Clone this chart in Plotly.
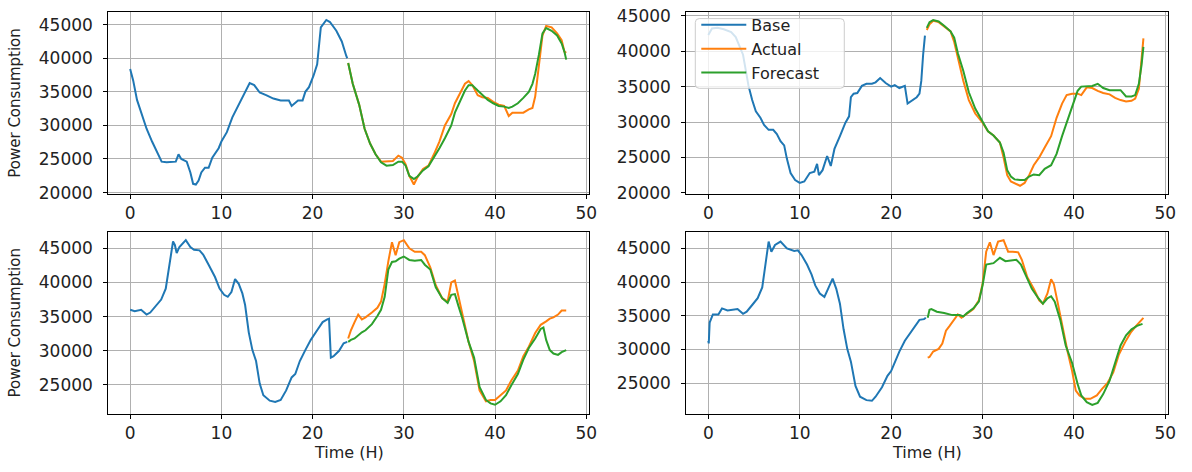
import plotly.graph_objects as go

# ---------------- data ----------------
# Top-left panel
tl_base_t = [0, 0.33, 0.75, 1.25, 1.8, 2.4, 3.0, 3.45, 4.0, 4.6, 5.0, 5.3, 5.6, 6.2, 6.6, 6.9, 7.2, 7.5, 7.8, 8.2, 8.6, 9.0, 9.7, 10.0, 10.6, 11.2, 12.0, 12.6, 13.1, 13.6, 14.2, 14.9, 15.7, 16.5, 17.4, 17.7, 18.0, 18.4, 18.9, 19.2, 19.6, 20.1, 20.5, 20.9, 21.5, 21.9, 22.6, 23.2, 23.7, 23.8]
tl_base_v = [38400, 36700, 33800, 31900, 29500, 27600, 25900, 24600, 24500, 24500, 24600, 25700, 25000, 24600, 23000, 21300, 21200, 21800, 23000, 23700, 23700, 25200, 26600, 27600, 29000, 31200, 33300, 35000, 36300, 36000, 34900, 34500, 34000, 33700, 33700, 32900, 33200, 33700, 33700, 35000, 35700, 37400, 39100, 44600, 45700, 45400, 44100, 42500, 40300, 40000]
tl_fc_t = [23.9, 24.4, 25.1, 25.7, 26.3, 26.9, 27.5, 28.1, 28.8, 29.4, 29.8, 30.2, 30.6, 31.1, 31.5, 32.1, 32.7, 33.3, 33.9, 34.5, 35.2, 35.6, 36.2, 36.7, 37.1, 37.5, 38.1, 38.6, 39.2, 39.8, 40.4, 41.0, 41.5, 41.9, 42.5, 43.1, 43.7, 44.1, 44.4, 44.8, 45.2, 45.6, 46.2, 46.8, 47.3, 47.6, 47.8]
tl_actual_v = [39300, 36200, 33100, 29500, 27300, 25700, 24600, 24600, 24700, 25500, 25200, 24200, 22500, 21200, 22300, 23500, 24000, 25700, 27600, 30000, 31700, 33300, 34800, 36200, 36600, 36000, 34500, 34200, 34100, 33500, 33100, 32900, 31400, 31900, 31900, 31900, 32400, 32600, 34300, 39100, 43400, 44800, 44600, 43700, 42700, 41000, 40800]
tl_forecast_v = [39300, 36200, 33100, 29500, 27300, 25700, 24500, 24000, 24100, 24600, 24600, 24000, 22500, 22000, 22400, 23300, 23900, 25200, 26600, 28100, 30000, 31900, 33800, 35200, 36000, 36000, 35200, 34500, 33800, 33300, 32900, 32800, 32600, 32800, 33300, 34100, 35000, 36200, 37700, 40500, 43700, 44500, 44100, 43400, 42200, 41000, 39800]

# Top-right panel
tr_base_t = [0, 0.4, 1.0, 1.7, 2.5, 3.0, 3.8, 4.4, 4.8, 5.2, 5.7, 6.1, 6.6, 7.1, 7.5, 7.9, 8.3, 8.6, 9.0, 9.5, 10.0, 10.5, 11.1, 11.6, 11.9, 12.1, 12.5, 13.0, 13.4, 13.8, 14.4, 15.0, 15.4, 15.6, 15.9, 16.3, 16.8, 17.3, 17.9, 18.3, 18.8, 19.4, 20.0, 20.4, 20.9, 21.5, 21.8, 22.3, 22.8, 23.1, 23.3, 23.5, 23.7]
tr_base_v = [42300, 43200, 43300, 43100, 42700, 42000, 39500, 35100, 33100, 31500, 30600, 29600, 28900, 28900, 28300, 27300, 26700, 24800, 22800, 21800, 21400, 21600, 22800, 23000, 24100, 22500, 23200, 25200, 23800, 26200, 28000, 29900, 30800, 33500, 34000, 34100, 35100, 35400, 35400, 35600, 36200, 35500, 35000, 35200, 34800, 35100, 32600, 33100, 33500, 34000, 35800, 39500, 42200]
tr_fc_t = [23.9, 24.2, 24.6, 25.2, 25.8, 26.5, 26.9, 27.3, 27.9, 28.5, 29.2, 30.0, 30.6, 31.2, 31.9, 32.3, 32.7, 33.1, 33.5, 34.1, 34.6, 35.1, 35.6, 36.2, 36.8, 37.5, 38.1, 38.7, 39.2, 39.8, 40.4, 40.8, 41.4, 42.0, 42.6, 43.2, 43.9, 44.5, 45.1, 45.7, 46.3, 46.7, 47.1, 47.4, 47.6]
tr_actual_v = [43000, 43800, 44300, 44100, 43500, 42800, 41300, 39000, 35800, 33100, 31200, 29900, 28700, 28100, 27100, 25000, 22500, 21600, 21400, 21000, 21400, 22500, 23900, 25000, 26400, 28000, 30600, 32600, 33800, 34000, 34000, 33800, 34900, 34800, 34400, 34100, 33900, 33400, 33100, 32900, 33000, 33300, 34700, 38600, 41800]
tr_forecast_v = [43300, 44100, 44400, 44200, 43600, 42800, 41900, 39700, 37200, 34200, 31900, 30000, 28700, 28100, 27100, 25700, 23200, 22300, 21900, 21800, 21800, 22300, 22600, 22500, 23400, 23900, 25500, 28000, 29900, 32400, 34400, 35000, 35100, 35100, 35400, 34800, 34500, 34500, 34500, 33600, 33600, 33800, 35400, 38100, 40600]

# Bottom-left panel
bl_base_t = [0, 0.5, 1.2, 1.5, 1.8, 2.2, 2.8, 3.4, 3.9, 4.3, 4.7, 4.9, 5.1, 5.4, 5.7, 6.1, 6.6, 7.0, 7.6, 8.0, 8.6, 9.3, 9.8, 10.3, 10.7, 11.1, 11.5, 11.9, 12.3, 12.6, 13.0, 13.4, 13.8, 14.2, 14.6, 15.3, 15.9, 16.5, 17.1, 17.7, 18.1, 18.6, 19.2, 19.8, 20.5, 21.1, 21.6, 21.8, 22.0, 22.3, 22.9, 23.4, 23.8]
bl_base_v = [36000, 35800, 36000, 35700, 35300, 35600, 36500, 37500, 39100, 42600, 46000, 45500, 44300, 45200, 45700, 46200, 45200, 44800, 44700, 44100, 42600, 40800, 39100, 38200, 37900, 38600, 40500, 39800, 38400, 36700, 32700, 30100, 28500, 25200, 23500, 22700, 22500, 22800, 24200, 26100, 26600, 28500, 30100, 31600, 33000, 34200, 34600, 34700, 29000, 29200, 30000, 31100, 31300]
bl_actual_t = [23.9, 24.2, 24.6, 25.0, 25.4, 25.8, 26.5, 27.1, 27.5, 27.9, 28.3, 28.7, 29.1, 29.5, 30.0, 30.6, 31.2, 31.9, 32.3, 32.9, 33.5, 34.2, 34.8, 35.2, 35.6, 36.0, 36.4, 37.1, 37.7, 38.3, 39.0, 39.5, 40.0, 40.6, 41.2, 41.8, 42.5, 43.1, 43.7, 44.4, 45.0, 45.6, 46.0, 46.4, 46.9, 47.3, 47.8]
bl_actual_v = [31800, 33000, 34200, 35300, 34600, 34900, 35600, 36300, 37200, 39800, 43100, 45900, 44000, 45900, 46200, 45000, 44500, 44500, 44000, 42200, 39600, 37700, 37200, 40000, 40300, 37900, 35100, 31300, 28500, 24200, 22600, 22800, 22800, 23500, 24200, 25700, 27100, 29200, 30600, 32600, 33800, 34300, 34700, 34900, 35300, 35900, 35900]
bl_forecast_t = [23.9, 24.2, 24.6, 25.0, 25.4, 25.8, 26.5, 27.1, 27.5, 27.9, 28.3, 28.7, 29.1, 29.5, 30.0, 30.6, 31.2, 31.9, 32.3, 32.9, 33.5, 34.2, 34.8, 35.2, 35.6, 36.0, 36.4, 37.1, 37.7, 38.3, 39.0, 39.5, 40.0, 40.6, 41.2, 41.8, 42.5, 43.1, 43.7, 44.4, 45.0, 45.3, 45.6, 46.0, 46.4, 46.9, 47.3, 47.8]
bl_forecast_v = [31300, 31600, 31800, 32300, 32700, 33000, 33900, 35100, 36000, 37900, 41900, 43000, 43100, 43500, 43800, 43300, 43200, 43300, 42600, 41900, 39300, 37700, 37000, 38200, 38300, 36500, 34800, 31300, 29000, 24700, 22800, 22300, 22100, 22600, 23500, 25000, 26600, 28700, 30400, 31800, 33200, 33400, 31600, 30100, 29600, 29400, 29800, 30100]

# Bottom-right panel
br_base_t = [0, 0.05, 0.15, 0.5, 1.1, 1.5, 2.1, 2.7, 3.2, 3.8, 4.2, 4.8, 5.4, 5.9, 6.2, 6.6, 6.9, 7.3, 7.9, 8.6, 9.4, 9.8, 10.2, 10.8, 11.3, 11.7, 12.2, 12.7, 13.1, 13.6, 14.0, 14.4, 14.8, 15.2, 15.6, 16.1, 16.6, 17.3, 17.9, 18.3, 19.0, 19.6, 20.0, 20.4, 20.9, 21.5, 22.1, 22.7, 23.1, 23.6, 23.8]
br_base_v = [31300, 30900, 34000, 35200, 35200, 36100, 35800, 35900, 36000, 35300, 35600, 36600, 37600, 39200, 42100, 46000, 44500, 45500, 46000, 45000, 44600, 44700, 44000, 42600, 41100, 39500, 38300, 37800, 39000, 40500, 39000, 36800, 33000, 30100, 28200, 24600, 23000, 22500, 22400, 23000, 24400, 26100, 26800, 28200, 29700, 31300, 32500, 33700, 34400, 34500, 34700]
br_actual_t = [24.0, 24.2, 24.6, 25.2, 25.6, 26.0, 26.4, 26.9, 27.3, 27.7, 28.3, 29.0, 29.6, 30.0, 30.4, 30.8, 31.2, 31.7, 32.3, 32.8, 33.3, 33.9, 34.3, 34.9, 35.6, 36.2, 36.6, 37.1, 37.5, 37.8, 38.2, 38.7, 39.3, 39.8, 40.2, 40.6, 41.2, 41.8, 42.5, 43.1, 43.7, 44.3, 44.9, 45.6, 46.2, 46.8, 47.6]
br_actual_v = [28800, 28900, 29700, 30100, 30900, 32800, 33500, 34400, 35200, 34700, 35300, 36000, 37300, 39700, 44500, 45900, 44000, 46000, 46200, 44500, 44500, 44400, 43300, 40700, 39000, 37300, 36800, 38300, 40400, 39700, 37100, 33500, 29700, 26800, 23900, 23200, 22700, 22700, 23200, 24200, 25100, 26600, 29200, 31100, 32500, 33500, 34700]
br_forecast_t = [24.0, 24.2, 24.4, 25.0, 25.8, 26.7, 27.5, 27.9, 28.3, 29.0, 29.6, 30.0, 30.4, 30.8, 31.2, 31.9, 32.5, 33.1, 33.7, 34.2, 34.8, 35.4, 36.1, 36.6, 37.1, 37.5, 37.9, 38.5, 39.1, 39.8, 40.4, 40.8, 41.4, 42.0, 42.6, 43.2, 43.9, 44.5, 45.1, 45.7, 46.3, 46.9, 47.5]
br_forecast_v = [34700, 35900, 36000, 35600, 35400, 35100, 35100, 34900, 35400, 36100, 37100, 39500, 42600, 42700, 42800, 43600, 43100, 43200, 43300, 42600, 40900, 39000, 37600, 36800, 37600, 37900, 37100, 34400, 30600, 28000, 24900, 23200, 22200, 21800, 22100, 23400, 25400, 28200, 30600, 32100, 33000, 33500, 33800]

x_ticks = [0, 10, 20, 30, 40, 50]
series_names = ["Base", "Actual", "Forecast"]
colors = ["#1f77b4", "#ff7f0e", "#2ca02c"]

panels = [
    dict(base=(tl_base_t, tl_base_v), actual=(tl_fc_t, tl_actual_v), forecast=(tl_fc_t, tl_forecast_v),
         yr=[19810, 46920], yt=[20000, 25000, 30000, 35000, 40000, 45000]),
    dict(base=(tr_base_t, tr_base_v), actual=(tr_fc_t, tr_actual_v), forecast=(tr_fc_t, tr_forecast_v),
         yr=[19860, 45560], yt=[20000, 25000, 30000, 35000, 40000, 45000]),
    dict(base=(bl_base_t, bl_base_v), actual=(bl_actual_t, bl_actual_v), forecast=(bl_forecast_t, bl_forecast_v),
         yr=[20800, 47450], yt=[25000, 30000, 35000, 40000, 45000]),
    dict(base=(br_base_t, br_base_v), actual=(br_actual_t, br_actual_v), forecast=(br_forecast_t, br_forecast_v),
         yr=[20500, 47480], yt=[25000, 30000, 35000, 40000, 45000]),
]

W, H = 1192, 472
xdom = [[109 / W, 593 / W], [691 / W, 1176 / W]]
ydom = [[1 - 194 / H, 1 - 6 / H], [1 - 421 / H, 1 - 233 / H]]

fig = go.Figure()
FONT = "DejaVu Sans"
for i, p in enumerate(panels):
    r, c = divmod(i, 2)
    xa = "x" if i == 0 else f"x{i+1}"
    ya = "y" if i == 0 else f"y{i+1}"
    for k, key in enumerate(["base", "actual", "forecast"]):
        t, v = p[key]
        fig.add_trace(go.Scatter(x=t, y=v, mode="lines", name=series_names[k],
                                 line=dict(color=colors[k], width=2),
                                 showlegend=(i == 0), xaxis=xa, yaxis=ya))
    axis_common = dict(showgrid=True, gridcolor="#b0b0b0", gridwidth=1, zeroline=False,
                       showline=True, mirror=True, linecolor="#000000", linewidth=1,
                       ticks="outside", ticklen=4, tickcolor="#000000",
                       tickfont=dict(family=FONT, size=17, color="#222222"))
    xname = "xaxis" if i == 0 else f"xaxis{i+1}"
    yname = "yaxis" if i == 0 else f"yaxis{i+1}"
    fig.layout[xname] = dict(domain=xdom[c], range=[-2.4, 50.3], tickvals=x_ticks,
                             anchor=ya, ticklabelstandoff=0, **axis_common)
    fig.layout[yname] = dict(domain=ydom[r], range=p["yr"], tickvals=p["yt"], tickformat="d",
                             anchor=xa, ticklabelstandoff=7, **axis_common)

annos = []
for r in range(2):
    yc = (ydom[r][0] + ydom[r][1]) / 2
    annos.append(dict(text="Power Consumption", x=15 / W, y=yc, xref="paper", yref="paper",
                      textangle=-90, showarrow=False, xanchor="center", yanchor="middle",
                      font=dict(family=FONT, size=15, color="#222222")))
for c in range(2):
    xc = (xdom[c][0] + xdom[c][1]) / 2
    annos.append(dict(text="Time (H)", x=xc, y=0, xref="paper", yref="paper",
                      showarrow=False, xanchor="center", yanchor="bottom", yshift=0,
                      borderpad=0, font=dict(family=FONT, size=16, color="#222222")))

# legend frame (matplotlib-style rounded, semi-transparent box)
lx0, lx1, ly0, ly1, rad = 700 / W, 850 / W, 1 - 85 / H, 1 - 13 / H, 4
frame_path = (f"M {lx0 + rad / W},{ly1} L {lx1 - rad / W},{ly1} Q {lx1},{ly1} {lx1},{ly1 - rad / H} "
              f"L {lx1},{ly0 + rad / H} Q {lx1},{ly0} {lx1 - rad / W},{ly0} "
              f"L {lx0 + rad / W},{ly0} Q {lx0},{ly0} {lx0},{ly0 + rad / H} "
              f"L {lx0},{ly1 - rad / H} Q {lx0},{ly1} {lx0 + rad / W},{ly1} Z")

fig.update_layout(
    width=W, height=H, margin=dict(l=0, r=0, t=0, b=0),
    paper_bgcolor="white", plot_bgcolor="white",
    annotations=annos,
    shapes=[dict(type="path", path=frame_path, xref="paper", yref="paper", layer="above",
                 fillcolor="rgba(255,255,255,0.8)", line=dict(color="#cccccc", width=1))],
    legend=dict(x=701 / W, y=1 - 2 / H, xanchor="left", yanchor="top",
                bgcolor="rgba(0,0,0,0)", borderwidth=0,
                itemwidth=45, tracegroupgap=0,
                font=dict(family=FONT, size=16, color="#222222")),
)

fig.write_html("out.html")
